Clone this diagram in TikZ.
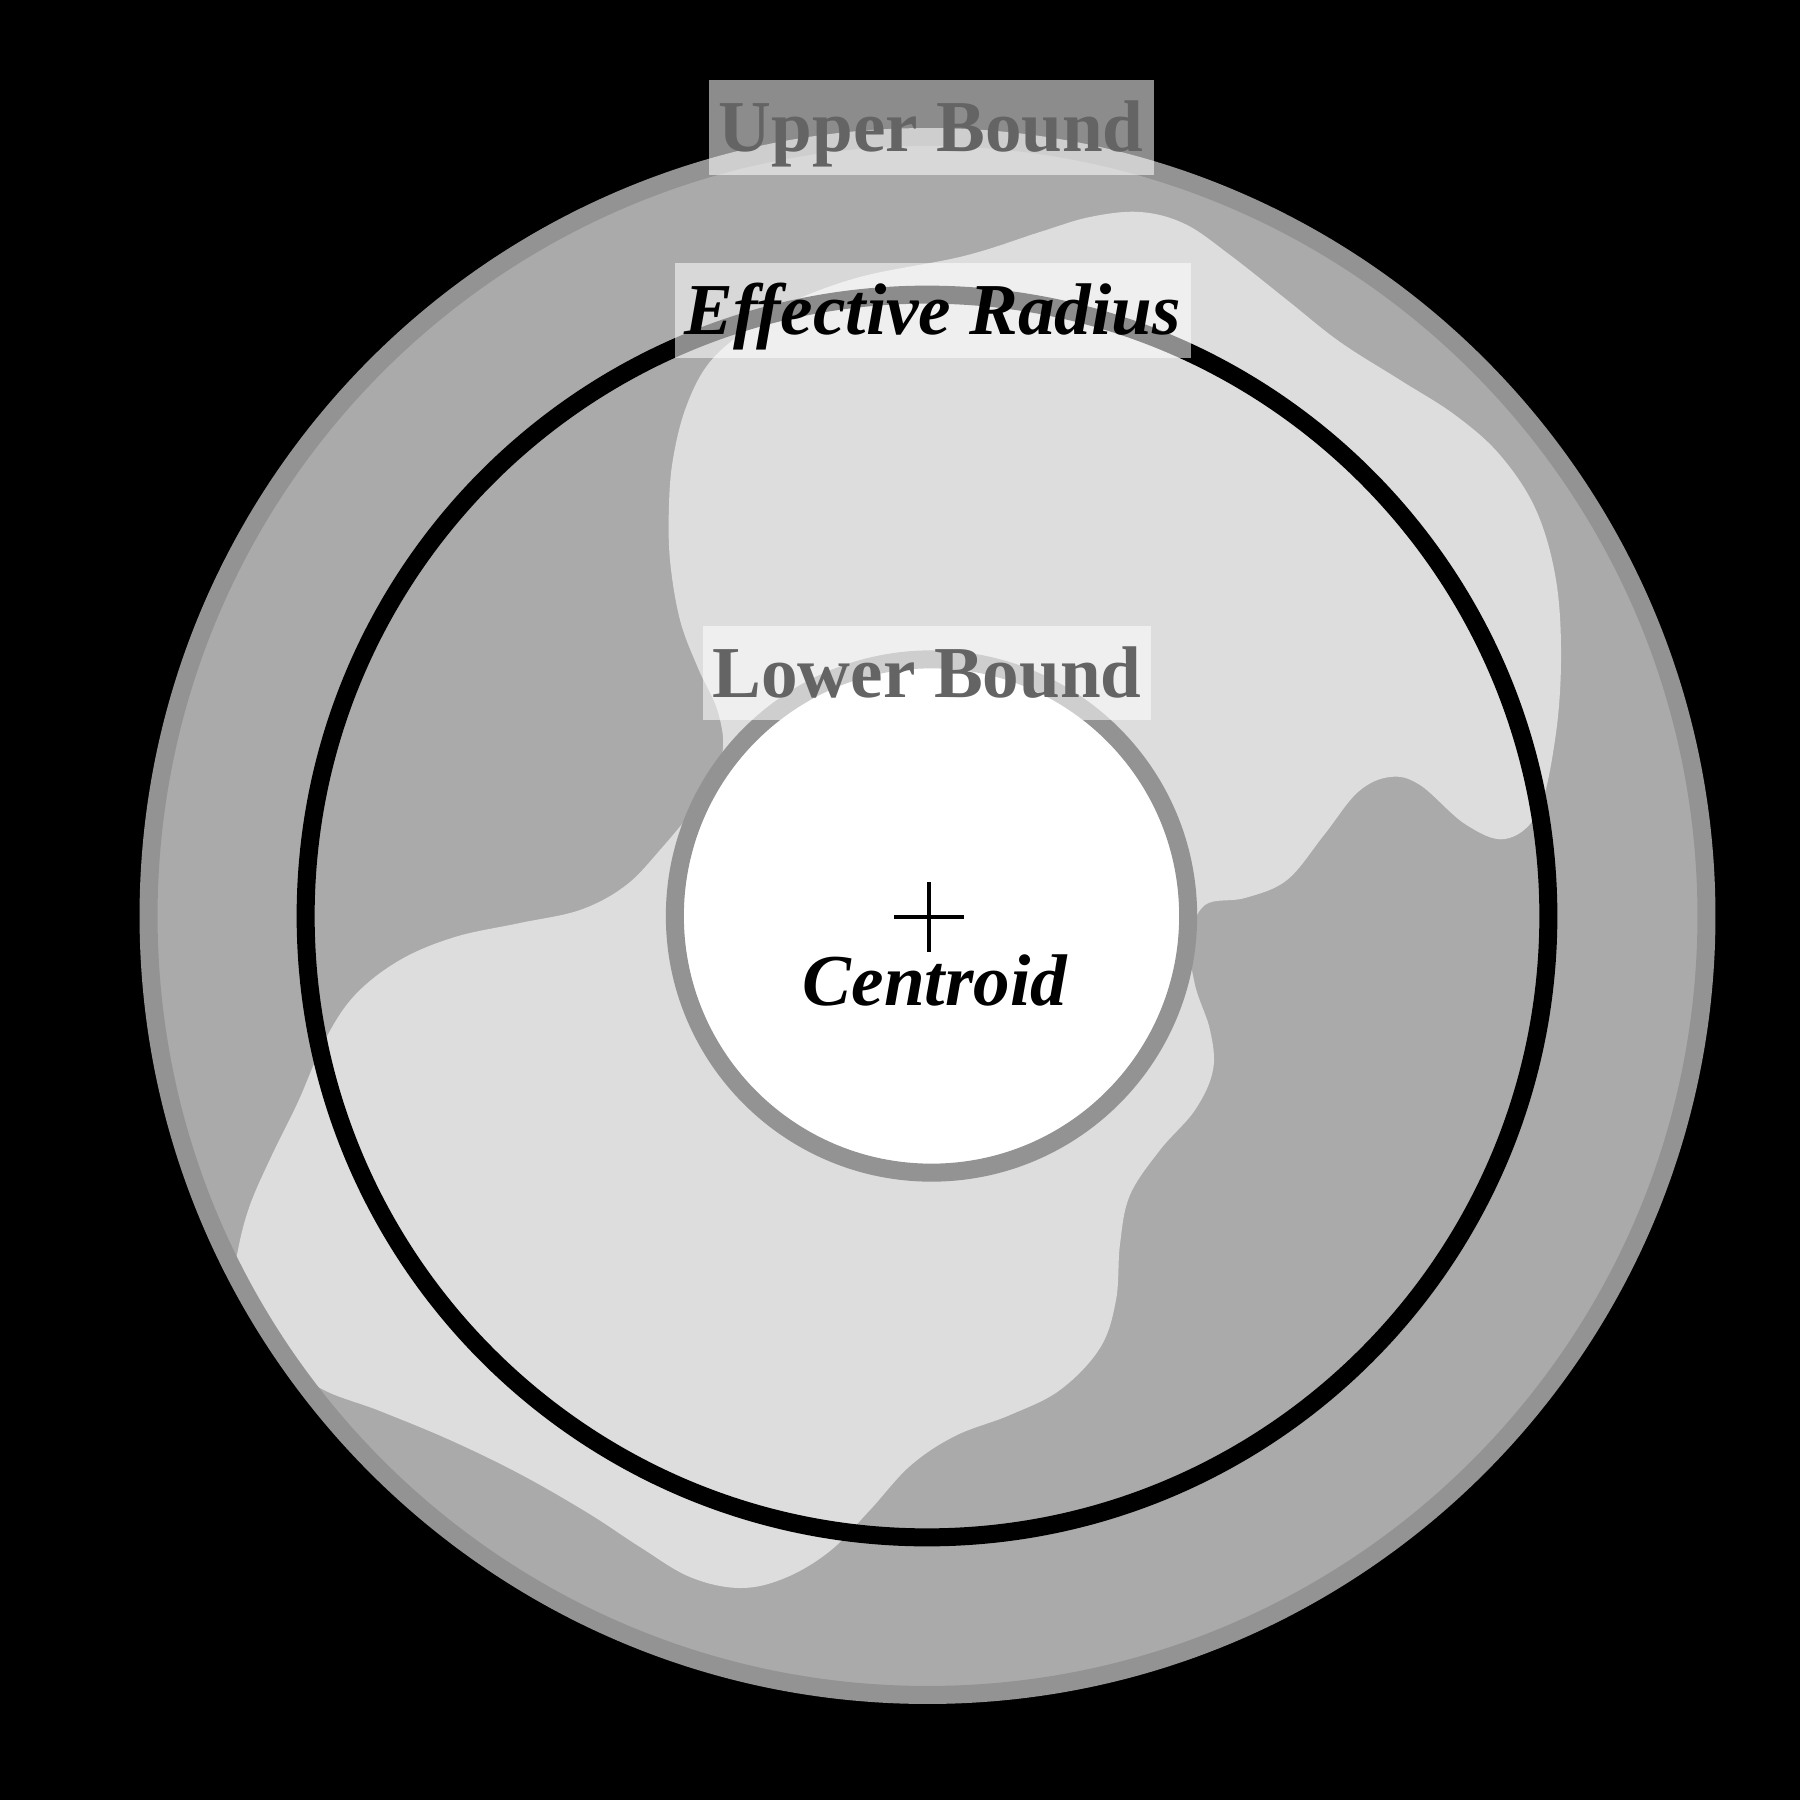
\documentclass[tikz,border=0pt]{standalone}
\usepackage{fontspec}
\setmainfont{Liberation Serif}
\definecolor{ringgray}{HTML}{939393}
\definecolor{fillgray}{HTML}{AAAAAA}
\definecolor{blobgray}{HTML}{DDDDDD}
\definecolor{labgray}{HTML}{646464}
\tikzset{
  labbox/.style={fill=white, fill opacity=0.55, text opacity=1, inner xsep=0.1cm, inner ysep=0pt,
    text height=0.717cm, text depth=0.23cm, anchor=base, font=\fontsize{20.8pt}{24pt}\selectfont\bfseries},
  ringline/.style={draw=ringgray, line width=0.18cm},
}
\begin{document}
\begin{tikzpicture}[x=0.01cm, y=-0.01cm]
\fill[black] (0,0) rectangle (1800,1800);
\useasboundingbox (0,0) rectangle (1800,1800);
\coordinate (oc) at (927.5,916);
\coordinate (bc) at (927,916);
\coordinate (ic) at (931.5,916);
% outer region (upper bound)
\fill[fillgray] (oc) circle[radius=7.85cm];
\begin{scope}
\clip (oc) circle[radius=7.85cm];
\fill[blobgray] plot[smooth cycle, tension=0.6] coordinates {
(1090,217) (1140,212) (1185,224) (1230,255) (1287,300) (1340,342) (1400,380) (1455,415)
(1500,455) (1536,510) (1556,580) (1561,660) (1555,740) (1538,812) (1505,839) (1465,824)
(1420,785) (1390,777) (1358,792) (1324,835) (1287,880) (1245,898) (1205,905) (1190,940)
(1195,985) (1210,1030) (1213,1070) (1195,1110) (1160,1150) (1130,1195) (1120,1244)
(1116,1300) (1100,1348) (1060,1390) (1010,1415) (955,1436) (910,1466) (870,1510)
(830,1551) (785,1578) (740,1588) (690,1577) (640,1547) (588,1513) (520,1474) (450,1440)
(380,1411) (320,1388) (270,1350) (232,1300) (238,1250) (250,1205) (272,1155) (298,1102)
(325,1040) (355,995) (400,960) (455,937) (520,923) (580,910) (625,886) (660,850) (700,800)
(722,755) (718,712) (698,668) (680,620) (670,560) (669,505) (673,459) (685,410)
(706,367) (738,336) (785,305) (860,277) (964,256) (1040,232)};
\end{scope}
\draw[ringline] (oc) circle[radius=7.785cm];
% effective radius
\draw[black, line width=0.18cm] (bc) circle[radius=6.21cm];
% lower bound
\draw[ringline, fill=white] (ic) circle[radius=2.565cm];
% centroid cross
\coordinate (cc) at (929,917);
\draw[black, line width=0.033cm] (cc) ++(-35,0) -- ++(70,0);
\draw[black, line width=0.033cm] (cc) ++(0,-35) -- ++(0,70);
\node[anchor=base, font=\fontsize{20.8pt}{24pt}\selectfont\bfseries\itshape] (cen) at (935,1005) {Centroid};
% labels
\node[labbox, text=labgray] (ub) at (931.3,151.7) {Upper Bound};
\node[labbox, text=black, font=\fontsize{20.8pt}{24pt}\selectfont\bfseries\itshape] (er) at (932.8,334.7) {Effective Radius};
\node[labbox, text=labgray] (lb) at (927,697.4) {Lower Bound};
\end{tikzpicture}
\end{document}
